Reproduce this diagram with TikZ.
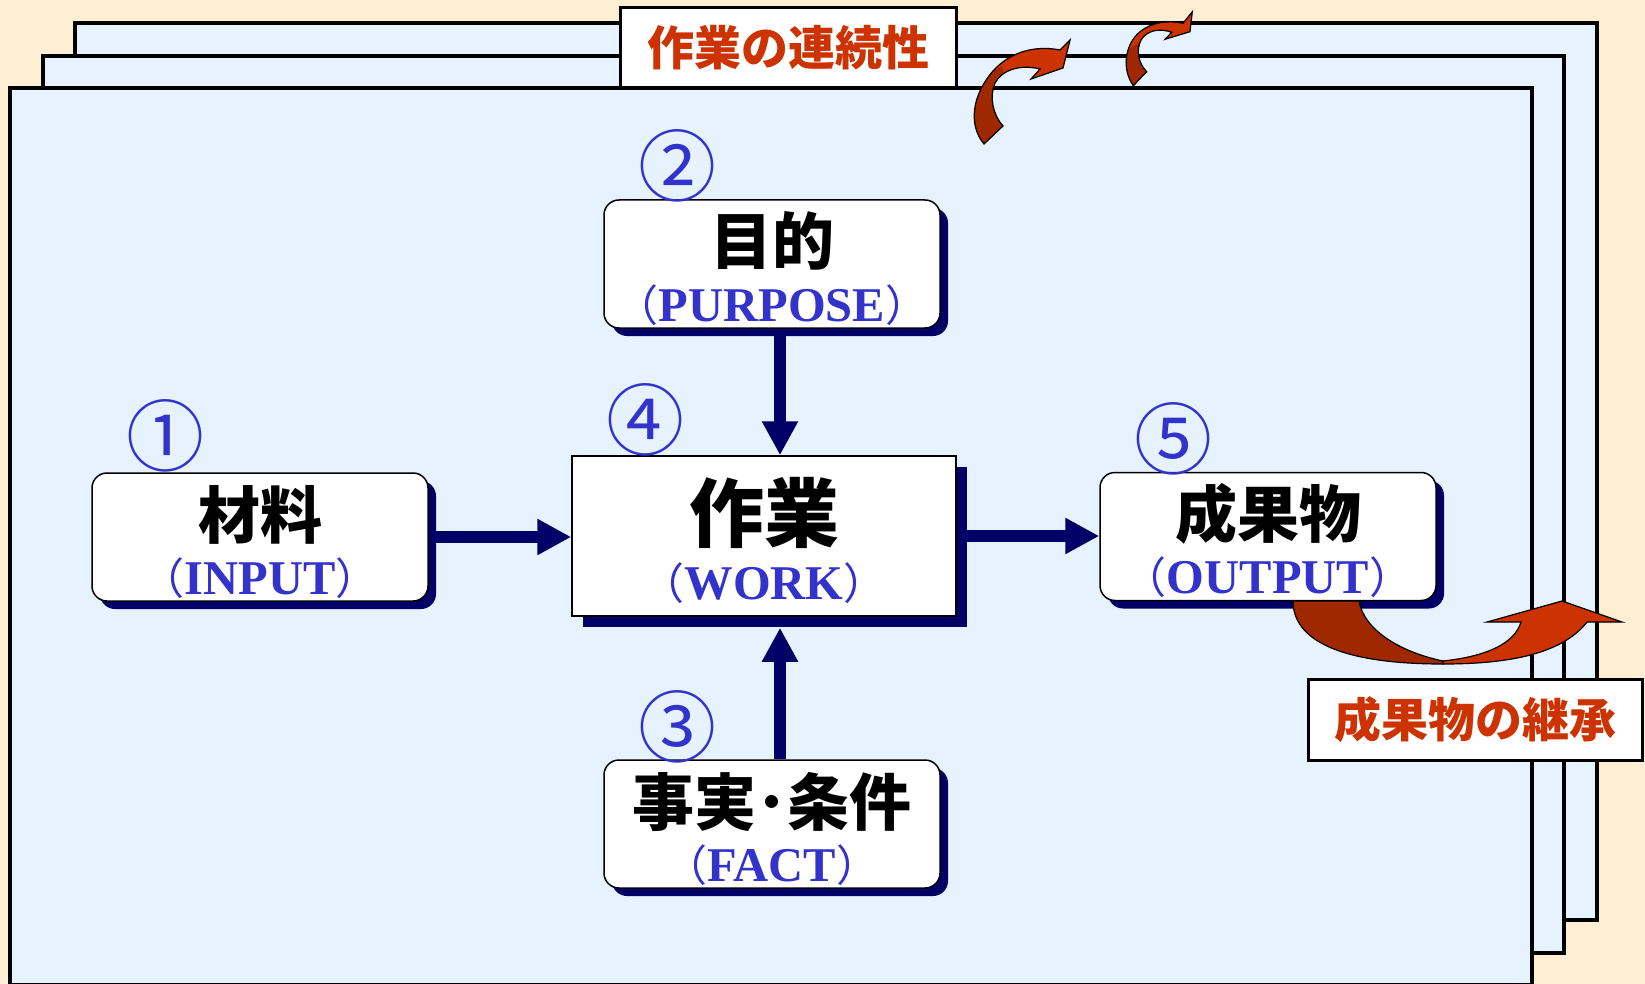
\documentclass[tikz,border=0pt]{standalone}
\usepackage{fontspec}
\setmainfont{Liberation Serif}
\newfontfamily\jp{Noto Sans CJK JP}
\usetikzlibrary{arrows.meta,shadows}
\definecolor{navy}{RGB}{0,0,102}
\definecolor{enblue}{RGB}{51,51,204}
\definecolor{lblred}{RGB}{204,51,0}
\definecolor{arrdark}{RGB}{160,40,0}
\definecolor{arrbright}{RGB}{204,51,0}
\definecolor{cream}{RGB}{254,238,212}
\definecolor{pageblue}{RGB}{230,243,255}
\newcommand\lpar{{\jp\mdseries\fontsize{43}{43}\selectfont\kern-0.42em（}}
\newcommand\rpar{{\jp\mdseries\fontsize{43}{43}\selectfont）\kern-0.42em}}
\tikzset{
  page/.style={draw=black, line width=4pt, fill=pageblue},
  rbox/.style={draw=black, line width=1.5pt, fill=white, rounded corners=15pt,
    minimum width=336pt, minimum height=128pt, inner sep=0pt,
    drop shadow={fill=navy, opacity=1, shadow xshift=8pt, shadow yshift=-8pt}},
  workbox/.style={draw=black, line width=1.5pt, fill=white,
    minimum width=384pt, minimum height=160pt, inner sep=0pt,
    drop shadow={fill=navy, opacity=1, shadow xshift=11pt, shadow yshift=-11pt}},
  jpt/.style={font=\jp\bfseries\fontsize{62}{62}\selectfont, inner sep=0pt, anchor=base},
  ent/.style={font=\bfseries\fontsize{48.5}{48.5}\selectfont, text=enblue, inner sep=0pt, anchor=base},
  num/.style={font=\jp\fontsize{78}{78}\selectfont, text=enblue, inner sep=0pt},
  lbl/.style={draw=black, line width=3pt, fill=white, text=lblred,
    font=\jp\bfseries\fontsize{47}{47}\selectfont, inner sep=0pt},
  conn/.style={draw=navy, line width=12pt, -{Triangle[length=34pt,width=34pt]}},
  carrow/.style={draw=black, line width=1.2pt},
}
\begin{document}
\begin{tikzpicture}[x=1pt,y=-1pt]
\useasboundingbox (0,0) rectangle (1645,984);
\fill[cream] (0,0) rectangle (1645,984);
% stacked pages
\draw[page] (75,23) rectangle (1597,920);
\draw[page] (43,56) rectangle (1564,953);
\draw[page] (10,88) rectangle (1532,985);
% top label
\node[lbl, minimum width=336pt, minimum height=80pt] (cont) at (788,48) {作業の連続性};
% boxes
\node[rbox] (input) at (260,537) {};
\node[rbox] (purpose) at (772,264) {};
\node[rbox] (fact) at (772,824) {};
\node[rbox] (output) at (1268,536.5) {};
\node[workbox] (work) at (764,536) {};
% texts
\node[jpt] (inputJ) at ([yshift=-1pt]input.center) {材料};
\node[ent] (inputE) at ([yshift=-57pt]input.center) {\lpar INPUT\rpar};
\node[jpt] (purposeJ) at ([yshift=-1pt]purpose.center) {目的};
\node[ent] (purposeE) at ([yshift=-57pt]purpose.center) {\lpar PURPOSE\rpar};
\node[jpt] (factJ) at ([yshift=-1pt]fact.center) {事実･条件};
\node[ent] (factE) at ([yshift=-57pt]fact.center) {\lpar FACT\rpar};
\node[jpt] (outputJ) at ([yshift=-1pt]output.center) {成果物};
\node[ent] (outputE) at ([yshift=-57pt]output.center) {\lpar OUTPUT\rpar};
\node[jpt, font=\jp\bfseries\fontsize{75}{75}\selectfont] (workJ) at ([yshift=-5pt]work.center) {作業};
\node[ent] (workE) at ([yshift=-63pt]work.center) {\lpar WORK\rpar};
% numbers
\node[num] (n1) at (165,436) {①};
\node[num] (n2) at (677,166) {②};
\node[num] (n3) at (677,727) {③};
\node[num] (n4) at (645,420) {④};
\node[num] (n5) at (1173,439) {⑤};
% connectors
\coordinate (pa) at ([xshift=8pt]purpose.south);
\coordinate (fa) at ([xshift=8pt]fact.north);
\coordinate (wb) at ([yshift=-11pt]work.south);
\draw[conn] (input.east) -- (input.east -| work.west);
\draw[conn] (work.east) -- (work.east -| output.west);
\draw[conn] (pa) -- (pa |- work.north);
\draw[conn] (fa) -- (fa |- wb);
% bottom label
\node[lbl, minimum width=334pt, minimum height=81pt] (inherit) at (1475,720) {成果物の継承};
% curved arrow below output
\filldraw[carrow, fill=arrdark] (1293,601) .. controls (1293,640) and (1340,664) .. (1443,664)
  -- (1443,661) .. controls (1400,652) and (1364,630) .. (1359,601) -- cycle;
\filldraw[carrow, fill=arrbright] (1443,661) .. controls (1490,656) and (1515,642) .. (1521,622)
  -- (1487,622) -- (1562,601) -- (1622,622) -- (1587,622)
  .. controls (1565,650) and (1520,664) .. (1443,664) -- cycle;
% big top curved arrow
\def\bigarrow{(984,144) .. controls (968,125) and (972,95) .. (993,71)
  .. controls (1010,52) and (1035,45) .. (1060,50)
  -- (1070,40) -- (1063,68) -- (1031,79) -- (1040,69)
  .. controls (1020,64) and (1002,70) .. (995,83)
  .. controls (989,97) and (993,115) .. (1003,126) -- cycle}
\fill[arrbright] \bigarrow;
\begin{scope}
  \clip \bigarrow;
  \fill[arrdark] (950,97) -- (1002,66) -- (1020,160) -- (950,160) -- cycle;
\end{scope}
\draw[carrow] \bigarrow;
% small top curved arrow
\def\smallarrow{(1133.3,85.7) .. controls (1122,70) and (1124,45) .. (1140,31.7)
  .. controls (1152,22) and (1168,20) .. (1183,23.3)
  -- (1192.3,11.7) -- (1190,31.7) -- (1165,39.3) -- (1171.7,32.3)
  .. controls (1160,28) and (1147,30) .. (1141,40)
  .. controls (1136,50) and (1138,63) .. (1146.7,71.7) -- cycle}
\fill[arrbright] \smallarrow;
\begin{scope}
  \clip \smallarrow;
  \fill[arrdark] (1110,60) -- (1144,40) -- (1160,100) -- (1110,100) -- cycle;
\end{scope}
\draw[carrow] \smallarrow;
\end{tikzpicture}
\end{document}
